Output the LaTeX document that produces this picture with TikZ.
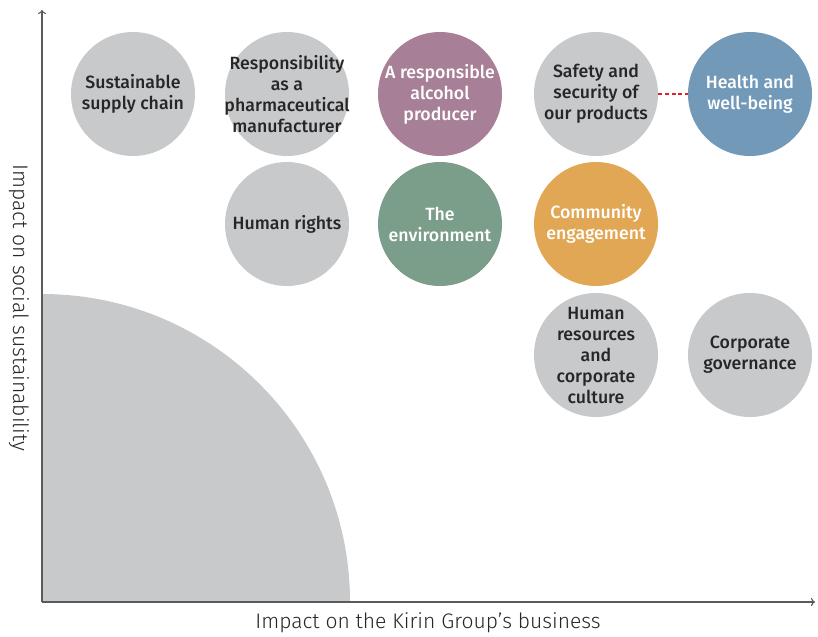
\documentclass[tikz,border=0pt]{standalone}
\usepackage{fontspec}
\setmainfont{Fira Sans Light}
\newfontfamily\medfont{Fira Sans Medium}
\usetikzlibrary{arrows.meta}
\definecolor{issuegray}{HTML}{C8C9CB}
\definecolor{axisgray}{HTML}{5A5A5A}
\definecolor{alcoholpurple}{HTML}{A77F97}
\definecolor{healthblue}{HTML}{7399B8}
\definecolor{envgreen}{HTML}{7A9E89}
\definecolor{commorange}{HTML}{E2A755}
\definecolor{linkred}{HTML}{E0202A}

\begin{document}
\begin{tikzpicture}[x=0.75pt, y=-0.75pt,
	issue/.style={circle, fill=issuegray, minimum size=93pt, inner sep=-14pt, align=center,
		text=black!85, font=\medfont\fontsize{13.3}{15.75}\selectfont},
	axis/.style={draw=axisgray, line width=0.8pt, -{To[length=3pt,width=6pt]}},
	axislabel/.style={font=\fontsize{15.8}{18}\selectfont, text=black!85}]
	\useasboundingbox (0,0) rectangle (818,636);
	\fill[issuegray] (42,602) -- (42,294) arc (-90:0:308) -- cycle;
	\draw[axis] (42,602) -- (42,10);
	\draw[axis] (42,602) -- (815,602);
	\node[axislabel] (xlabel) at (428,623) {Impact on the Kirin Group’s business};
	\node[axislabel, rotate=-90] (ylabel) at (19,308) {Impact on social sustainability};
	% top row
	\node[issue] (supply) at (133,94) {Sustainable\\supply chain};
	\node[issue] (pharma) at (287,94) {Responsibility\\as a\\pharmaceutical\\manufacturer};
	\node[issue, fill=alcoholpurple, text=white] (alcohol) at (440,94) {A responsible\\alcohol\\producer};
	\node[issue] (safety) at (596,94) {Safety and\\security of\\our products};
	\node[issue, fill=healthblue, text=white] (health) at (750,94) {Health and\\well-being};
	% middle row
	\node[issue] (rights) at (287,224) {Human rights};
	\node[issue, fill=envgreen, text=white] (environment) at (440,224) {The\\environment};
	\node[issue, fill=commorange, text=white] (community) at (596,224) {Community\\engagement};
	% bottom row
	\node[issue] (hr) at (596,355) {Human\\resources\\and\\corporate\\culture};
	\node[issue] (governance) at (750,355) {Corporate\\governance};
	\draw[linkred, line width=1.8pt, dash pattern=on 3pt off 2pt] (safety) -- (health);
\end{tikzpicture}
\end{document}
